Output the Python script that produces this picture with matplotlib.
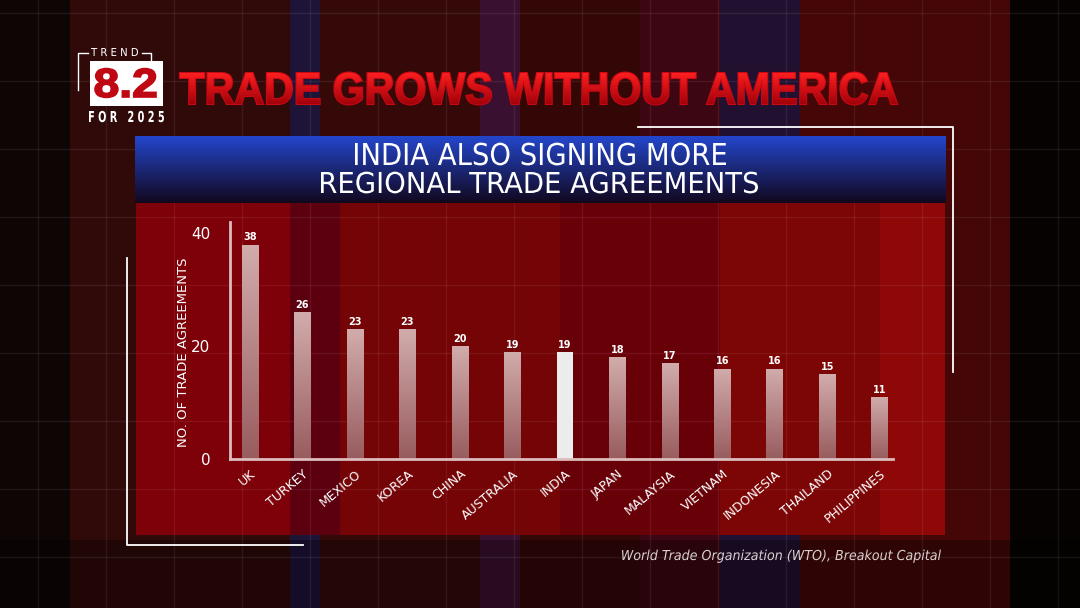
import numpy as np
import matplotlib
matplotlib.use("Agg")
import matplotlib.pyplot as plt
from matplotlib.transforms import ScaledTranslation, Affine2D
from matplotlib.textpath import TextPath
from matplotlib.patches import PathPatch
from matplotlib.font_manager import FontProperties

countries = ["UK", "TURKEY", "MEXICO", "KOREA", "CHINA", "AUSTRALIA", "INDIA",
             "JAPAN", "MALAYSIA", "VIETNAM", "INDONESIA", "THAILAND", "PHILIPPINES"]
agreements = [38, 26, 23, 23, 20, 19, 19, 18, 17, 16, 16, 15, 11]
highlight = "INDIA"
yticks = [0, 20, 40]

W, H = 1080, 608
fig = plt.figure(figsize=(W / 100, H / 100), dpi=100)

# ---- background (pixel space, y down) ----
bg = fig.add_axes([0, 0, 1, 1])
bg.set_xlim(0, W)
bg.set_ylim(H, 0)
bg.axis("off")


def fit_text(s, x0, x1, base, cap, color="white", weight="normal", style="normal",
             family="DejaVu Sans", z=5, stroke=0):
    # text drawn as a path, squeezed to span x0..x1 with the given cap height
    fp = FontProperties(family=family, weight=weight, style=style)
    tp = TextPath((0, 0), s, size=100, prop=fp)
    capref = TextPath((0, 0), "H", size=100, prop=fp).get_extents().height
    ext = tp.get_extents()
    sx = (x1 - x0) / ext.width
    sy = cap / capref
    tr = Affine2D().translate(-ext.x0, 0).scale(sx, -sy).translate(x0, base)
    p = PathPatch(tr.transform_path(tp), facecolor=color, edgecolor=color, lw=stroke, zorder=z)
    bg.add_patch(p)
    return p


img = np.zeros((H, W, 3))
outer_bands = [(0, 70, "#0e0505"), (70, 290, "#300909"), (290, 320, "#1e1438"),
               (320, 480, "#360909"), (480, 520, "#3a1030"), (520, 640, "#340707"),
               (640, 720, "#3c0712"), (720, 800, "#221030"), (800, 1010, "#440606"),
               (1010, 1080, "#070202")]
panel_bands = [(136, 290, "#7e0008"), (290, 340, "#5c0010"), (340, 560, "#740406"),
               (560, 720, "#680008"), (720, 880, "#7c0505"), (880, 945, "#8e0808")]
for x0, x1, c in outer_bands:
    img[:, x0:x1] = matplotlib.colors.to_rgb(c)
img[540:, :] *= 0.7
for x0, x1, c in panel_bands:
    img[203:535, x0:x1] = matplotlib.colors.to_rgb(c)
bg.imshow(img, extent=(0, W, H, 0), aspect="auto", zorder=0)

# faint grid of the backdrop
for gx in range(38, W, 68):
    bg.plot([gx, gx], [0, H], color="white", alpha=0.07, lw=1, zorder=1)
for gy in range(13, H, 68):
    bg.plot([0, W], [gy, gy], color="white", alpha=0.07, lw=1, zorder=1)

# blue header band with gradient
grad = np.linspace(0, 1, 100)[:, None]
top = np.array(matplotlib.colors.to_rgb("#2446cc"))
bot = np.array(matplotlib.colors.to_rgb("#12081e"))
hdr = top[None, None, :] * (1 - grad[..., None]) + bot[None, None, :] * grad[..., None]
hdr = np.repeat(hdr, 2, axis=1)
bg.imshow(hdr, extent=(135, 946, 203, 136), aspect="auto", zorder=2)
fit_text("INDIA ALSO SIGNING MORE", 355, 726, 165, 22)
fit_text("REGIONAL TRADE AGREEMENTS", 321, 758, 193, 21)

# white frame lines
bg.plot([638, 953, 953], [127, 127, 372], color="white", lw=1.3, zorder=3)
bg.plot([127, 127, 303], [258, 545, 545], color="white", lw=1.3, zorder=3)

# logo block
bg.add_patch(plt.Rectangle((90, 61), 73, 45, facecolor="white", zorder=3))
fit_text("8.2", 95, 156, 97, 28, color="#c00812", weight="bold", family="Liberation Sans",
         stroke=1.2)
fit_text("T R E N D", 91, 138, 56, 8)
fit_text("F O R   2 0 2 5", 89, 164, 122, 11, weight="bold")
bg.plot([88, 78, 78], [53, 53, 90], color="white", lw=1, zorder=4)
bg.plot([142, 151, 151], [53, 53, 61], color="white", lw=1, zorder=4)

# headline with a red gradient fill
title = fit_text("TRADE GROWS WITHOUT AMERICA", 180, 897, 104, 31, color="#c80812",
                 weight="heavy", family="Liberation Sans", stroke=1.5)
tgrad = bg.imshow(np.linspace(0, 1, 64)[:, None],
                  cmap=matplotlib.colors.LinearSegmentedColormap.from_list("t", ["#ff2020", "#a0000a"]),
                  extent=(178, 900, 105, 72), aspect="auto", zorder=5)
tgrad.set_clip_path(title)

fit_text("World Trade Organization (WTO), Breakout Capital", 622, 941, 560, 10,
         color="#d8d0d0", style="italic")

# ---- chart ----
ax = fig.add_axes([230 / W, 1 - 459 / H, 663 / W, 237 / H])
ax.patch.set_alpha(0)
x = np.arange(len(countries))
bars = ax.bar(x, agreements, width=0.32, color="none", zorder=2)

bar_grad = np.linspace(0, 1, 256)[:, None]
bar_cmap = matplotlib.colors.LinearSegmentedColormap.from_list("b", ["#d2acac", "#985c5e"])
for rect, name, v in zip(bars, countries, agreements):
    x0, w = rect.get_x(), rect.get_width()
    if name == highlight:
        rect.set_facecolor("#ececec")
    else:
        im = ax.imshow(bar_grad, cmap=bar_cmap, extent=(x0, x0 + w, 0, v), aspect="auto",
                       origin="upper", zorder=2)
        im.set_clip_path(rect)
    ax.text(rect.get_x() + w / 2, v + 0.4, str(v), ha="center", va="bottom",
            color="white", fontsize=7, fontweight="bold")

ax.set_xlim(-0.38, len(countries) - 0.75)
ax.set_ylim(0, 42)
ax.set_yticks(yticks)
ylabs = ax.set_yticklabels([str(t) for t in yticks], color="white", fontsize=11)
up = ScaledTranslation(0, 4 / 100, fig.dpi_scale_trans)
for lab in ylabs:
    lab.set_transform(lab.get_transform() + up)
ax.set_xticks(x)
labels = ax.set_xticklabels(countries, rotation=40, ha="right", rotation_mode="anchor",
                            color="white", fontsize=9)
shift = ScaledTranslation(-8 / 100, -2 / 100, fig.dpi_scale_trans)
for lab in labels:
    lab.set_transform(lab.get_transform() + shift)
ax.tick_params(length=0, pad=6)
ax.tick_params(axis="y", pad=14)
for s in ["top", "right"]:
    ax.spines[s].set_visible(False)
for s in ["left", "bottom"]:
    ax.spines[s].set_color("#dcbcbc")
    ax.spines[s].set_linewidth(2)
ax.set_ylabel("NO. OF TRADE AGREEMENTS", color="white", fontsize=9.5)
ax.yaxis.set_label_coords(-40 / 663, 0.45)

fig.savefig("out.png", dpi=100)
